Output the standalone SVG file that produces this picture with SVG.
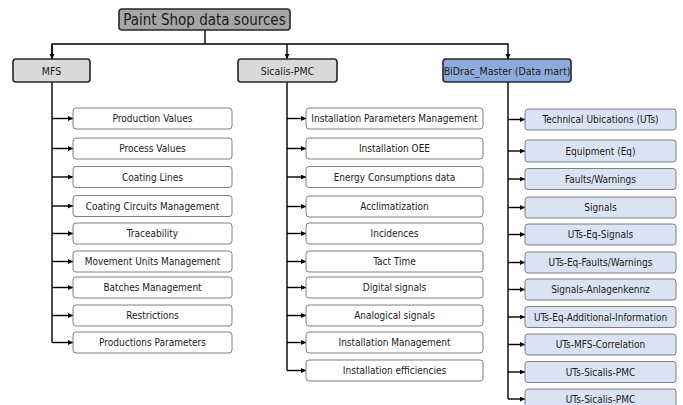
<svg xmlns="http://www.w3.org/2000/svg" width="683" height="405" viewBox="0 0 683 405">
<style>
text{font-family:"Liberation Sans Narrow","DejaVu Sans Condensed","Liberation Sans",sans-serif;text-anchor:middle;dominant-baseline:central;fill:#1a1a1a}
.t{font-size:10px}
.h{font-size:10.5px}
.main rect{fill:#d9d9d9;stroke:#262626;stroke-width:1.6}
.w rect{fill:#fff;stroke:#808080;stroke-width:1}
.b rect{fill:#dae3f3;stroke:#7f7f7f;stroke-width:1}
.c{fill:none;stroke:#000;stroke-width:1.4}
</style>
<defs>
<marker id="ar" viewBox="0 0 6 6" refX="6" refY="3" markerWidth="5" markerHeight="5" orient="auto" markerUnits="userSpaceOnUse"><path d="M0,0 L6,3 L0,6 z" fill="#000"/></marker>
</defs>
<g id="connectors">
<path class="c" d="M205,30 V44"/>
<path class="c" d="M52,59 V44 H508 V59" marker-end="url(#ar)"/>
<path class="c" d="M52,44 V59" marker-end="url(#ar)"/>
<path class="c" d="M287,44 V59" marker-end="url(#ar)"/>
<path class="c" d="M52,82 V342.5"/>
<path class="c" d="M287,82 V370.5"/>
<path class="c" d="M508,82 V399"/>
<g marker-end="url(#ar)">
<path class="c" d="M52,118.5 H73"/><path class="c" d="M52,148.5 H73"/><path class="c" d="M52,177 H73"/><path class="c" d="M52,206 H73"/><path class="c" d="M52,233.5 H73"/><path class="c" d="M52,261.5 H73"/><path class="c" d="M52,287.5 H73"/><path class="c" d="M52,315.5 H73"/><path class="c" d="M52,342.5 H73"/>
<path class="c" d="M287,118.5 H306"/><path class="c" d="M287,148.5 H306"/><path class="c" d="M287,177 H306"/><path class="c" d="M287,206.5 H306"/><path class="c" d="M287,233.5 H306"/><path class="c" d="M287,261.5 H306"/><path class="c" d="M287,287.5 H306"/><path class="c" d="M287,315.5 H306"/><path class="c" d="M287,342.5 H306"/><path class="c" d="M287,370.5 H306"/>
<path class="c" d="M508,119.5 H525"/><path class="c" d="M508,151 H525"/><path class="c" d="M508,179 H525"/><path class="c" d="M508,207.5 H525"/><path class="c" d="M508,234.5 H525"/><path class="c" d="M508,262.5 H525"/><path class="c" d="M508,289.5 H525"/><path class="c" d="M508,317 H525"/><path class="c" d="M508,344.5 H525"/><path class="c" d="M508,372 H525"/><path class="c" d="M508,399 H525"/>
</g>
</g>
<g id="root" class="main"><rect x="119" y="9" width="171" height="21" rx="3" style="fill:#a6a6a6"/><text x="204.5" y="20" style="font-size:15px">Paint Shop data sources</text></g>
<g id="mfs" class="main"><rect x="13" y="59" width="77" height="23" rx="3"/><text class="h" x="51.5" y="70.5">MFS</text></g>
<g id="sicalis" class="main"><rect x="238" y="59" width="99" height="23" rx="3"/><text class="h" x="287.5" y="70.5">Sicalis-PMC</text></g>
<g id="bidrac" class="main"><rect x="443" y="59" width="128" height="23" rx="3" style="fill:#8eaadb"/><text class="h" x="507" y="70.5">BiDrac_Master (Data mart)</text></g>

<g id="mfs1" class="w"><rect x="73" y="108" width="159" height="21" rx="3"/><text class="t" x="152.5" y="118.5">Production Values</text></g>
<g id="mfs2" class="w"><rect x="73" y="138" width="159" height="21" rx="3"/><text class="t" x="152.5" y="148.5">Process Values</text></g>
<g id="mfs3" class="w"><rect x="73" y="166.5" width="159" height="21" rx="3"/><text class="t" x="152.5" y="177">Coating Lines</text></g>
<g id="mfs4" class="w"><rect x="73" y="195.5" width="159" height="21" rx="3"/><text class="t" x="152.5" y="206">Coating Circuits Management</text></g>
<g id="mfs5" class="w"><rect x="73" y="223" width="159" height="21" rx="3"/><text class="t" x="152.5" y="233.5">Traceability</text></g>
<g id="mfs6" class="w"><rect x="73" y="251" width="159" height="21" rx="3"/><text class="t" x="152.5" y="261.5">Movement Units Management</text></g>
<g id="mfs7" class="w"><rect x="73" y="277" width="159" height="21" rx="3"/><text class="t" x="152.5" y="287.5">Batches Management</text></g>
<g id="mfs8" class="w"><rect x="73" y="305" width="159" height="21" rx="3"/><text class="t" x="152.5" y="315.5">Restrictions</text></g>
<g id="mfs9" class="w"><rect x="73" y="332" width="159" height="21" rx="3"/><text class="t" x="152.5" y="342.5">Productions Parameters</text></g>

<g id="s1" class="w"><rect x="306" y="108" width="177" height="21" rx="3"/><text class="t" x="394.5" y="118.5">Installation Parameters Management</text></g>
<g id="s2" class="w"><rect x="306" y="138" width="177" height="21" rx="3"/><text class="t" x="394.5" y="148.5">Installation OEE</text></g>
<g id="s3" class="w"><rect x="306" y="166.5" width="177" height="21" rx="3"/><text class="t" x="394.5" y="177">Energy Consumptions data</text></g>
<g id="s4" class="w"><rect x="306" y="196" width="177" height="21" rx="3"/><text class="t" x="394.5" y="206.5">Acclimatization</text></g>
<g id="s5" class="w"><rect x="306" y="223" width="177" height="21" rx="3"/><text class="t" x="394.5" y="233.5">Incidences</text></g>
<g id="s6" class="w"><rect x="306" y="251" width="177" height="21" rx="3"/><text class="t" x="394.5" y="261.5">Tact Time</text></g>
<g id="s7" class="w"><rect x="306" y="277" width="177" height="21" rx="3"/><text class="t" x="394.5" y="287.5">Digital signals</text></g>
<g id="s8" class="w"><rect x="306" y="305" width="177" height="21" rx="3"/><text class="t" x="394.5" y="315.5">Analogical signals</text></g>
<g id="s9" class="w"><rect x="306" y="332" width="177" height="21" rx="3"/><text class="t" x="394.5" y="342.5">Installation Management</text></g>
<g id="s10" class="w"><rect x="306" y="360" width="177" height="21" rx="3"/><text class="t" x="394.5" y="370.5">Installation efficiencies</text></g>

<g id="b1" class="b"><rect x="525" y="109" width="151" height="21" rx="3"/><text class="t" x="600.5" y="119.5">Technical Ubications (UTs)</text></g>
<g id="b2" class="b"><rect x="525" y="140" width="151" height="22" rx="3"/><text class="t" x="600.5" y="151">Equipment (Eq)</text></g>
<g id="b3" class="b"><rect x="525" y="168.5" width="151" height="21" rx="3"/><text class="t" x="600.5" y="179">Faults/Warnings</text></g>
<g id="b4" class="b"><rect x="525" y="197" width="151" height="21" rx="3"/><text class="t" x="600.5" y="207.5">Signals</text></g>
<g id="b5" class="b"><rect x="525" y="224" width="151" height="21" rx="3"/><text class="t" x="600.5" y="234.5">UTs-Eq-Signals</text></g>
<g id="b6" class="b"><rect x="525" y="252" width="151" height="21" rx="3"/><text class="t" x="600.5" y="262.5">UTs-Eq-Faults/Warnings</text></g>
<g id="b7" class="b"><rect x="525" y="279" width="151" height="21" rx="3"/><text class="t" x="600.5" y="289.5">Signals-Anlagenkennz</text></g>
<g id="b8" class="b"><rect x="525" y="306.5" width="151" height="21" rx="3"/><text class="t" x="600.5" y="317">UTs-Eq-Additional-Information</text></g>
<g id="b9" class="b"><rect x="525" y="334" width="151" height="21" rx="3"/><text class="t" x="600.5" y="344.5">UTs-MFS-Correlation</text></g>
<g id="b10" class="b"><rect x="525" y="361.5" width="151" height="21" rx="3"/><text class="t" x="600.5" y="372">UTs-Sicalis-PMC</text></g>
<g id="b11" class="b"><rect x="525" y="389" width="151" height="21" rx="3"/><text class="t" x="600.5" y="399">UTs-Sicalis-PMC</text></g>
</svg>
